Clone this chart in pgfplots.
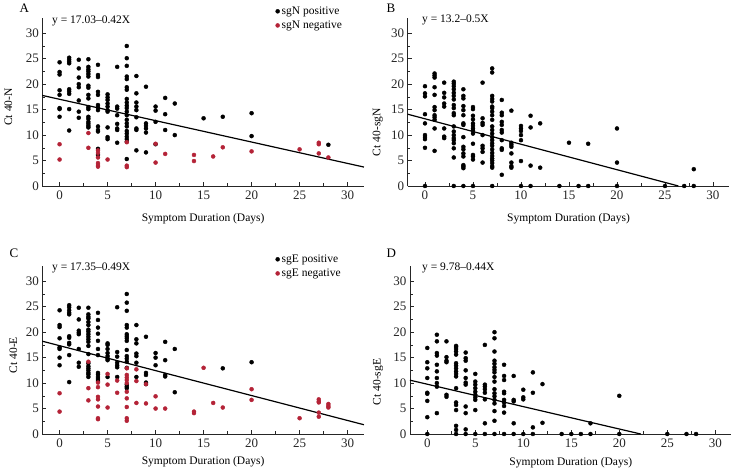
\documentclass[border=0pt]{standalone}
\usepackage{fontspec}
\setmainfont{Liberation Serif}
\usepackage{pgfplots}
\pgfplotsset{compat=1.18}
\definecolor{negred}{RGB}{180,35,55}

\pgfplotsset{
  panel/.style={
    scale only axis, width=321.6pt, height=168pt,
    xmin=-1.8, xmax=31.7, ymin=0, ymax=33,
    axis lines*=left, clip=false,
    xtick={0,5,...,30}, ytick={0,5,...,30}, minor tick num=1,
    tick align=inside, major tick length=4pt, minor tick length=2.5pt,
    axis line style={black!85, line width=0.7pt},
    tick style={black!85, line width=0.6pt},
    /pgf/number format/assume math mode=true,
    ticklabel style={font=\fontsize{13}{15}\selectfont, text=black!85},
    xticklabel style={yshift=-1pt},
    label style={font=\fontsize{11.5}{13}\selectfont},
    xlabel={Symptom Duration (Days)},
  },
  pos/.style={only marks, mark=*, mark size=2pt, black},
  neg/.style={only marks, mark=*, mark size=2pt, negred},
  fit/.style={black, line width=1.2pt, no marks},
  leg/.style={
    legend style={at={(axis description cs:0.725,1.08)}, anchor=north west,
      draw=none, fill=none, font=\fontsize{11.5}{14}\selectfont,
      row sep=1pt, inner sep=0pt},
    legend cell align=left,
    legend image code/.code={\draw[##1] plot coordinates {(0.08cm,0cm)};},
  },
}

\begin{document}
\begin{tikzpicture}
\useasboundingbox (0,0) rectangle (731pt,470pt);

% ---------- A ----------
\begin{axis}[panel, leg, at={(42.3pt,284pt)}, anchor=south west,
  ylabel={Ct 40-N},
  ylabel style={at={(axis description cs:0,0.47)}, anchor=center, yshift=34pt},
  xlabel style={at={(axis description cs:0.5,0)}, anchor=center, yshift=-33pt}]
\addplot[pos] coordinates {
(0,24.3)(0,22.4)(0,21.9)(0,18.8)(0,17.9)(0,15.3)(0,15.1)(0,13.6)
(1,25.2)(1,24.8)(1,24.4)(1,24.1)(1,19.0)(1,18.6)(1,18.1)(1,15.1)(1,10.9)
(2,24.8)(2,23.1)(2,21.3)(2,20.0)(2,19.4)(2,16.8)(2,14.6)(2,13.4)
(3,24.9)(3,23.4)(3,22.9)(3,22.5)(3,22.0)(3,21.5)(3,19.7)(3,19.3)(3,17.9)(3,17.2)
(3,15.5)(3,15.1)(3,13.6)(3,13.2)(3,12.6)(3,12.2)(3,11.8)(3,11.5)
(4,23.8)(4,21.8)(4,21.4)(4,18.5)(4,17.9)(4,15.9)(4,15.4)(4,14.9)(4,11.7)(4,11.0)(4,10.7)(4,7.3)(4,6.1)
(5,18.0)(5,17.4)(5,16.9)(5,16.2)(5,15.6)(5,14.9)(5,14.6)(5,11.5)(5,9.6)(5,9.2)
(6,23.4)(6,15.6)(6,15.2)(6,13.9)(6,12.2)(6,11.3)(6,11.0)(6,8.5)
(7,27.5)(7,25.1)(7,23.6)(7,21.5)(7,21.0)(7,19.4)(7,18.9)(7,17.1)(7,16.4)(7,15.8)(7,15.3)
(7,14.6)(7,13.9)(7,13.0)(7,12.3)(7,11.7)(7,10.8)(7,10.3)(7,9.7)(7,9.2)(7,8.7)(7,5.3)
(8,21.6)(8,18.2)(8,16.4)(8,15.6)(8,14.9)(8,13.5)(8,11.3)(8,11.0)(8,7.0)
(9,19.5)(9,12.3)(9,11.8)(9,11.3)(9,10.5)(9,6.6)
(10,15.6)(10,14.8)(10,12.6)(10,8.2)
(11,17.3)(11,14.1)(11,11.0)
(12,16.2)(12,10.0)
(15,13.3)(17,13.6)(20,14.3)(20,9.8)(28,8.1)
};
\addlegendentry{sgN positive}
\addplot[neg] coordinates {
(0,8.2)(0,5.2)(3,10.4)(3,7.5)(4,7.0)(4,6.5)(4,5.6)(4,4.5)(4,4.1)(4,3.8)(5,5.2)
(7,8.6)(7,4.0)(7,3.7)(10,8.3)(10,4.6)(11,6.3)(14,6.1)(14,4.9)(16,5.8)(17,7.6)
(20,6.8)(25,7.2)(27,8.5)(27,8.2)(27,6.4)(28,5.6)
};
\addlegendentry{sgN negative}
\addplot[fit, forget plot] coordinates {(-1.8,17.79)(31.7,3.72)};
\end{axis}

% ---------- B ----------
\begin{axis}[panel, at={(407.7pt,284pt)}, anchor=south west,
  ylabel={Ct 40-sgN},
  ylabel style={at={(axis description cs:0,0.32)}, anchor=center, yshift=30pt},
  xlabel style={at={(axis description cs:0.5,0)}, anchor=center, yshift=-33pt}]
\addplot[pos] coordinates {
(0,19.6)(0,18.2)(0,17.6)(0,14.1)(0,12.3)(0,10.0)(0,9.6)(0,9.2)(0,7.5)(0,0)
(1,22.1)(1,21.7)(1,21.3)(1,19.4)(1,17.9)(1,15.5)(1,14.9)(1,13.9)(1,13.5)(1,13.0)(1,11.3)(1,6.9)
(2,20.3)(2,18.3)(2,17.4)(2,16.2)(2,15.6)(2,11.3)(2,9.7)(2,9.4)
(3,20.5)(3,20.1)(3,19.6)(3,19.0)(3,18.3)(3,17.7)(3,17.0)(3,15.9)(3,15.3)(3,14.3)(3,13.9)
(3,11.7)(3,10.7)(3,10.0)(3,9.4)(3,9.0)(3,8.4)(3,7.4)(3,5.6)(3,0)
(4,19.0)(4,17.7)(4,17.2)(4,15.7)(4,14.9)(4,13.9)(4,12.3)(4,12.0)(4,9.6)(4,7.7)(4,7.2)
(4,6.4)(4,5.8)(4,4.1)(4,3.8)(4,3.5)(4,0)
(5,15.5)(5,15.1)(5,13.8)(5,13.1)(5,12.3)(5,11.8)(5,11.3)(5,10.9)(5,10.3)(5,8.3)(5,6.1)(5,5.8)(5,5.2)(5,0)
(6,20.3)(6,13.3)(6,12.4)(6,12.0)(6,10.0)(6,7.9)(6,7.4)(6,6.7)(6,4.6)
(7,23.1)(7,22.3)(7,17.7)(7,17.1)(7,16.6)(7,15.6)(7,15.3)(7,14.6)(7,13.9)(7,13.0)(7,11.7)
(7,11.0)(7,10.3)(7,9.6)(7,9.0)(7,8.4)(7,7.9)(7,7.2)(7,6.5)(7,5.9)(7,5.4)(7,5.0)(7,4.5)(7,3.9)(7,3.6)(7,0)
(8,16.9)(8,14.4)(8,13.9)(8,12.6)(8,12.0)(8,11.0)(8,10.5)(8,9.0)(8,7.4)(8,7.1)(8,2.2)
(9,14.8)(9,8.5)(9,8.1)(9,7.7)(9,6.4)(9,4.6)(9,3.9)(9,3.6)
(10,11.8)(10,11.3)(10,10.8)(10,10.0)(10,9.0)(10,4.9)(10,0)
(11,13.8)(11,11.5)(11,4.0)(11,0)
(12,12.3)(12,3.6)
(14,0)(15,8.5)(16,0)(17,8.3)(17,0)(20,11.3)(20,4.6)(20,0)(25,0)(27,0)(28,3.3)(28,0)
};
\addplot[fit] coordinates {(-1.8,14.1)(26.4,0)};
\end{axis}

% ---------- C ----------
\begin{axis}[panel, leg, at={(42.3pt,36pt)}, anchor=south west,
  ylabel={Ct 40-E},
  ylabel style={at={(axis description cs:0,0.47)}, anchor=center, yshift=29pt},
  xlabel style={at={(axis description cs:0.5,0)}, anchor=center, yshift=-28pt}]
\addplot[pos] coordinates {
(0,24.3)(0,21.4)(0,21.0)(0,18.8)(0,17.0)(0,16.7)(0,15.0)(0,13.5)
(1,25.3)(1,24.9)(1,24.3)(1,23.8)(1,23.5)(1,19.2)(1,18.9)(1,17.9)(1,17.6)(1,15.5)(1,10.2)
(2,24.8)(2,22.5)(2,20.3)(2,19.9)(2,19.6)(2,16.7)(2,14.0)(2,13.2)
(3,24.8)(3,23.5)(3,23.0)(3,22.7)(3,22.0)(3,21.4)(3,20.5)(3,20.1)(3,19.6)(3,19.1)(3,18.6)
(3,18.1)(3,17.3)(3,15.7)(3,13.9)(3,13.3)(3,12.9)(3,12.5)(3,12.0)(3,11.7)(3,11.2)
(4,23.8)(4,22.4)(4,20.9)(4,19.7)(4,18.3)(4,16.7)(4,15.5)(4,12.0)(4,11.7)(4,11.2)(4,10.8)(4,10.4)
(5,17.8)(5,17.5)(5,16.7)(5,15.9)(5,15.3)(5,14.8)(5,14.5)(5,11.2)
(6,16.1)(6,15.2)(6,14.0)(6,13.5)(6,13.1)(6,11.2)(6,24.9)
(7,27.5)(7,25.8)(7,24.2)(7,21.4)(7,20.9)(7,19.6)(7,19.2)(7,18.8)(7,18.3)(7,16.5)(7,15.3)
(7,14.8)(7,14.2)(7,13.0)(7,9.7)(7,9.3)(7,9.0)
(8,21.4)(8,18.6)(8,17.8)(8,15.8)(8,15.3)(8,14.0)(8,11.2)
(9,19.1)(9,12.0)(9,11.6)(9,10.1)(9,9.8)
(10,15.9)(10,15.0)(10,13.5)
(11,18.1)(11,14.5)(11,11.6)(11,11.3)
(12,16.7)(12,8.2)
(17,12.9)(20,14.1)
};
\addlegendentry{sgE positive}
\addplot[neg] coordinates {
(0,8.0)(0,4.4)(3,14.2)(3,9.0)(3,6.6)
(4,10.1)(4,9.2)(4,7.3)(4,6.8)(4,5.4)(4,3.1)(4,2.9)
(5,11.8)(5,9.7)(5,5.2)(6,10.5)(6,8.1)
(7,12.9)(7,11.6)(7,11.1)(7,10.6)(7,10.0)(7,8.3)(7,7.0)(7,5.3)(7,3.1)(7,2.6)
(8,12.7)(8,10.4)(8,6.1)(9,9.8)(9,6.0)(10,7.4)(10,5.0)(11,5.0)
(14,4.4)(14,4.1)(15,13.0)(16,6.1)(17,5.2)(20,8.8)(20,6.7)(25,3.1)
(27,6.8)(27,6.4)(27,6.2)(27,4.2)(27,3.4)(28,5.9)(28,5.5)(28,5.2)
};
\addlegendentry{sgE negative}
\addplot[fit, forget plot] coordinates {(-1.8,18.23)(31.7,1.82)};
\end{axis}

% ---------- D ----------
\begin{axis}[panel, at={(410pt,36pt)}, anchor=south west,
  ylabel={Ct 40-sgE},
  ylabel style={at={(axis description cs:0,0.31)}, anchor=center, yshift=32pt},
  xlabel style={at={(axis description cs:0.5,0)}, anchor=center, yshift=-29pt}]
\addplot[pos] coordinates {
(0,16.9)(0,14.1)(0,12.9)(0,11.0)(0,8.1)(0,7.9)(0,6.5)(0,3.3)(0,0)
(1,19.5)(1,18.2)(1,15.9)(1,15.4)(1,13.6)(1,12.3)(1,11.0)(1,10.0)(1,9.3)(1,4.1)
(2,18.2)(2,15.1)(2,14.4)(2,14.1)(2,7.7)(2,7.3)
(3,17.3)(3,17.1)(3,16.7)(3,16.2)(3,15.6)(3,13.9)(3,13.4)(3,12.9)(3,12.3)(3,11.8)(3,11.3)
(3,9.0)(3,6.2)(3,5.7)(3,4.7)(3,1.6)(3,0.8)(3,0)
(4,16.0)(4,14.9)(4,14.4)(4,12.5)(4,11.0)(4,10.1)(4,9.7)(4,5.4)(4,4.1)(4,0.9)(4,0)
(5,11.8)(5,10.3)(5,9.7)(5,9.0)(5,8.3)(5,7.7)(5,7.2)(5,6.7)(5,4.7)(5,0)
(6,17.5)(6,9.7)(6,9.3)(6,8.8)(6,8.1)(6,6.8)(6,2.1)(6,0)
(7,20.0)(7,18.8)(7,16.2)(7,14.4)(7,13.8)(7,13.1)(7,12.6)(7,12.1)(7,11.2)(7,10.3)(7,8.8)
(7,8.0)(7,7.4)(7,6.7)(7,6.0)(7,4.5)(7,2.6)(7,0)
(8,13.6)(8,11.4)(8,10.6)(8,8.3)(8,8.0)(8,6.7)(8,6.2)(8,5.5)(8,4.2)(8,0)
(9,11.4)(9,6.7)(9,6.4)(9,2.1)(9,0)
(10,8.7)(10,7.2)(10,6.8)(10,0)
(11,12.1)(11,8.1)(11,1.3)(11,0)
(12,9.8)(12,2.2)
(14,0)(15,0)(16,0)(17,2.1)(17,0)(20,7.5)(20,0)(25,0)(27,0)(28,0)
};
\addplot[fit] coordinates {(-1.8,10.57)(22.23,0)};
\end{axis}

% panel letters and fitted equations
\node[anchor=west, font=\fontsize{13}{15}\selectfont] at (16pt,462pt) {A};
\node[anchor=west, font=\fontsize{13}{15}\selectfont] at (383pt,462pt) {B};
\node[anchor=west, font=\fontsize{13}{15}\selectfont] at (6pt,217pt) {C};
\node[anchor=west, font=\fontsize{13}{15}\selectfont] at (383pt,217pt) {D};
\node[anchor=west, font=\fontsize{11.5}{13}\selectfont, inner sep=0pt] at (52pt,449pt) {y = 17.03–0.42X};
\node[anchor=west, font=\fontsize{11.5}{13}\selectfont, inner sep=0pt] at (422pt,450pt) {y = 13.2–0.5X};
\node[anchor=west, font=\fontsize{11.5}{13}\selectfont, inner sep=0pt] at (52pt,202pt) {y = 17.35–0.49X};
\node[anchor=west, font=\fontsize{11.5}{13}\selectfont, inner sep=0pt] at (422pt,202pt) {y = 9.78–0.44X};
\end{tikzpicture}
\end{document}
